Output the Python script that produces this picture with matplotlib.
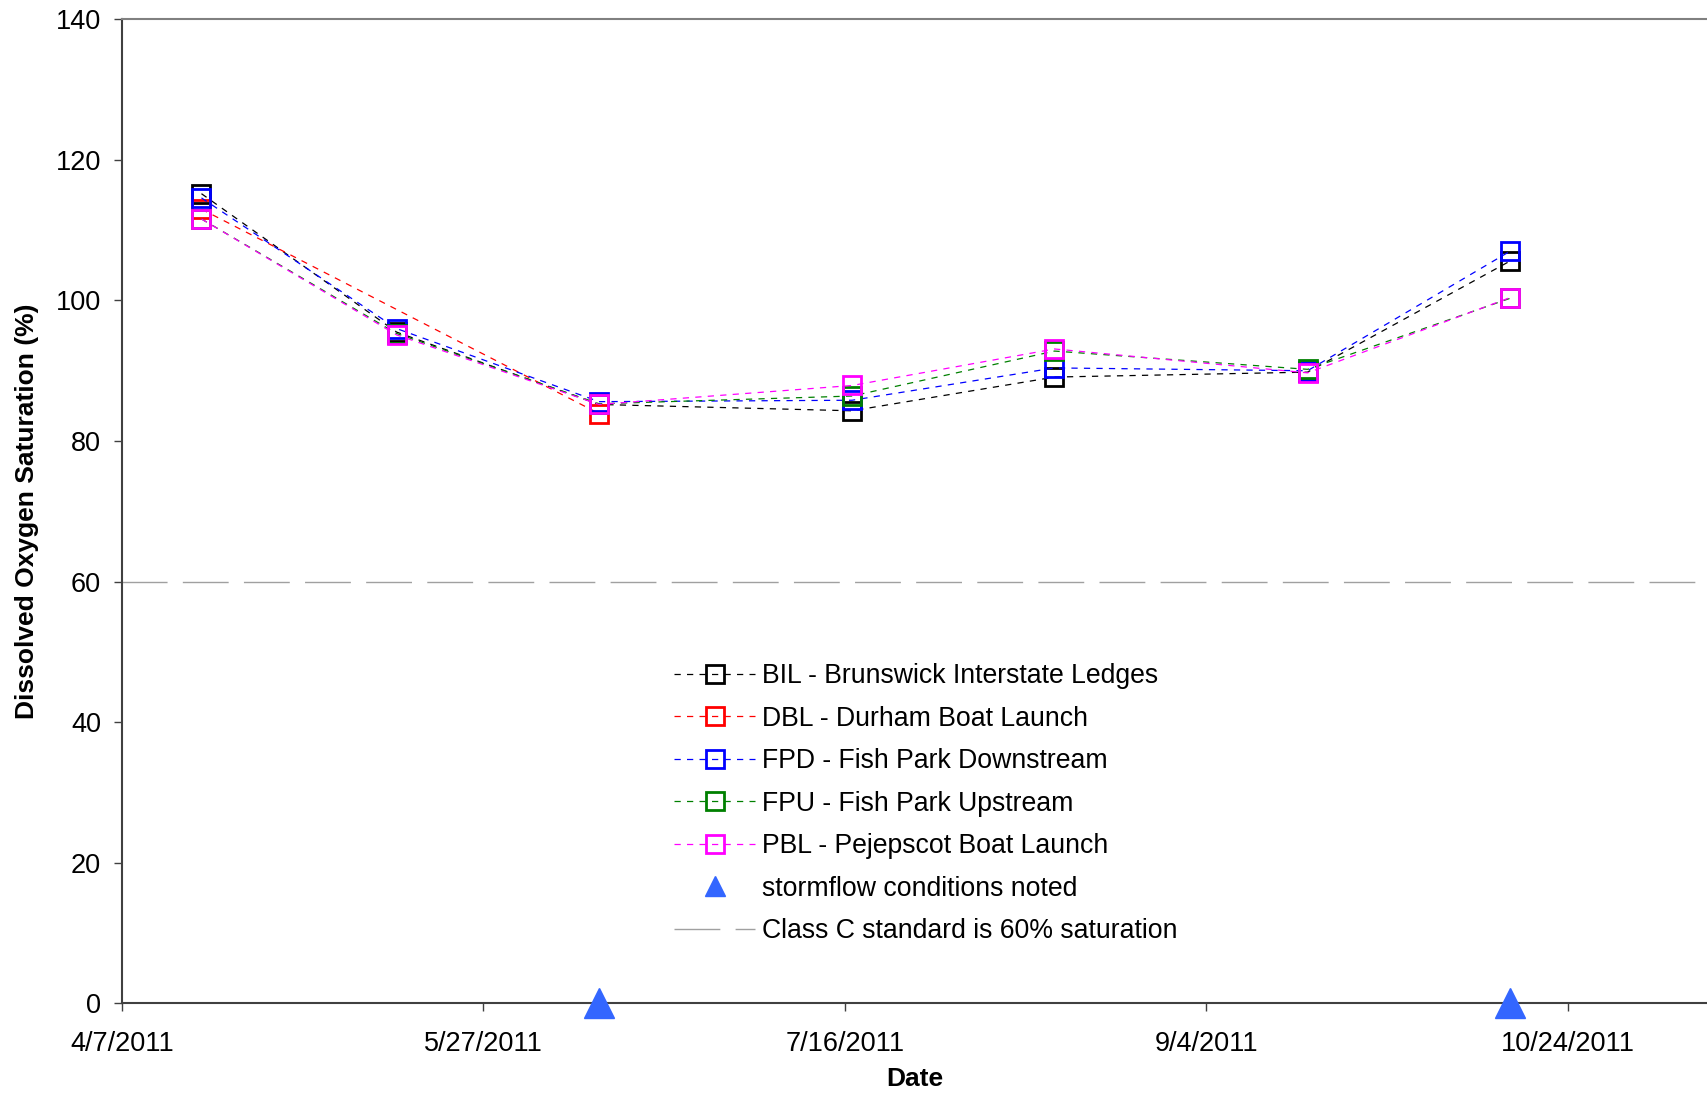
import numpy as np
import matplotlib
matplotlib.use("Agg")
from matplotlib import pyplot as plt
from matplotlib.lines import Line2D
from datetime import datetime, timedelta

plt.rcParams["font.family"] = ["Liberation Sans", "DejaVu Sans"]

# sampling dates
dates = ["4/18/2011", "5/15/2011", "6/12/2011", "7/17/2011", "8/14/2011", "9/18/2011", "10/16/2011"]

# dissolved oxygen saturation (%) per site, None = not sampled
bil = [115.2, 95.5, 85.2, 84.3, 89.1, 89.8, 105.6]
dbl = [113.0, None, 83.9, None, None, None, None]
fpd = [114.6, 96.0, 85.6, 85.8, 90.4, 90.0, 107.0]
fpu = [111.6, 95.3, 85.3, 86.4, 92.8, 90.2, 100.3]
pbl = [111.6, 95.1, 85.2, 87.9, 93.1, 89.7, 100.4]

storm_dates = ["6/12/2011", "10/16/2011"]
standard = 60

labels = ["BIL - Brunswick Interstate Ledges",
          "DBL - Durham Boat Launch",
          "FPD - Fish Park Downstream",
          "FPU - Fish Park Upstream",
          "PBL - Pejepscot Boat Launch"]
colors = ["black", "#FF0000", "#0000FF", "#008000", "#FF00FF"]
tick_dates = ["4/7/2011", "5/27/2011", "7/16/2011", "9/4/2011", "10/24/2011"]


def d(s):
    return datetime.strptime(s, "%m/%d/%Y")


x = [d(s) for s in dates]

fig = plt.figure(figsize=(17.08, 10.93), dpi=100)
ax = fig.add_axes([0.0714, 0.0823, 0.9286, 0.8999])

handles = []
for vals, lab, col in zip([bil, dbl, fpd, fpu, pbl], labels, colors):
    xs = [xx for xx, v in zip(x, vals) if v is not None]
    ys = [v for v in vals if v is not None]
    h, = ax.plot(xs, ys, linestyle=(0, (5, 5)), lw=0.9, color=col,
                 marker="s", markersize=12.5, markerfacecolor="none",
                 markeredgecolor=col, markeredgewidth=2.0, label=lab)
    handles.append(h)

ax.plot([d(s) for s in storm_dates], [0] * len(storm_dates), linestyle="none",
        marker="^", markersize=21, color="#3366FF", clip_on=False, zorder=5)
# smaller triangle for the legend
handles.append(Line2D([], [], linestyle="none", marker="^", markersize=14,
                      color="#3366FF", label="stormflow conditions noted"))

h, = ax.plot([x[0] - timedelta(days=30), x[-1] + timedelta(days=60)], [standard, standard],
             color="#A0A0A0", lw=1.0, dashes=(33, 11),
             label="Class C standard is 60% saturation")
handles.append(h)

x0 = d("4/7/2011")
ax.set_xlim(x0, x0 + timedelta(days=219.4))
ax.set_ylim(0, 140)
ax.set_yticks(np.arange(0, 141, 20))
ax.set_xticks([d(s) for s in tick_dates])
ax.set_xticklabels(tick_dates)

ax.spines["right"].set_visible(False)
ax.spines["top"].set_color("#808080")
ax.spines["left"].set_color("#404040")
ax.spines["bottom"].set_color("#404040")
for s in ["top", "left", "bottom"]:
    ax.spines[s].set_linewidth(1.5)

ax.tick_params(axis="y", length=6, width=1, color="#404040", labelsize=19.5, pad=9)
ax.tick_params(axis="x", length=6, width=1, color="#404040", labelsize=19.5, pad=14)

ax.set_xlabel("Date", fontsize=19, fontweight="bold", labelpad=7)
ax.set_ylabel("Dissolved Oxygen Saturation (%)", fontsize=19, fontweight="bold", labelpad=12)

leg = ax.legend(handles=handles, loc="upper left",
                bbox_to_anchor=(674 / 1708, (1093 - 663) / 1093),
                bbox_transform=fig.transFigure, frameon=False, fontsize=19.2,
                handlelength=3.05, handletextpad=0.25, labelspacing=0.62,
                borderpad=0, borderaxespad=0)

fig.savefig("out.png", dpi=100)
